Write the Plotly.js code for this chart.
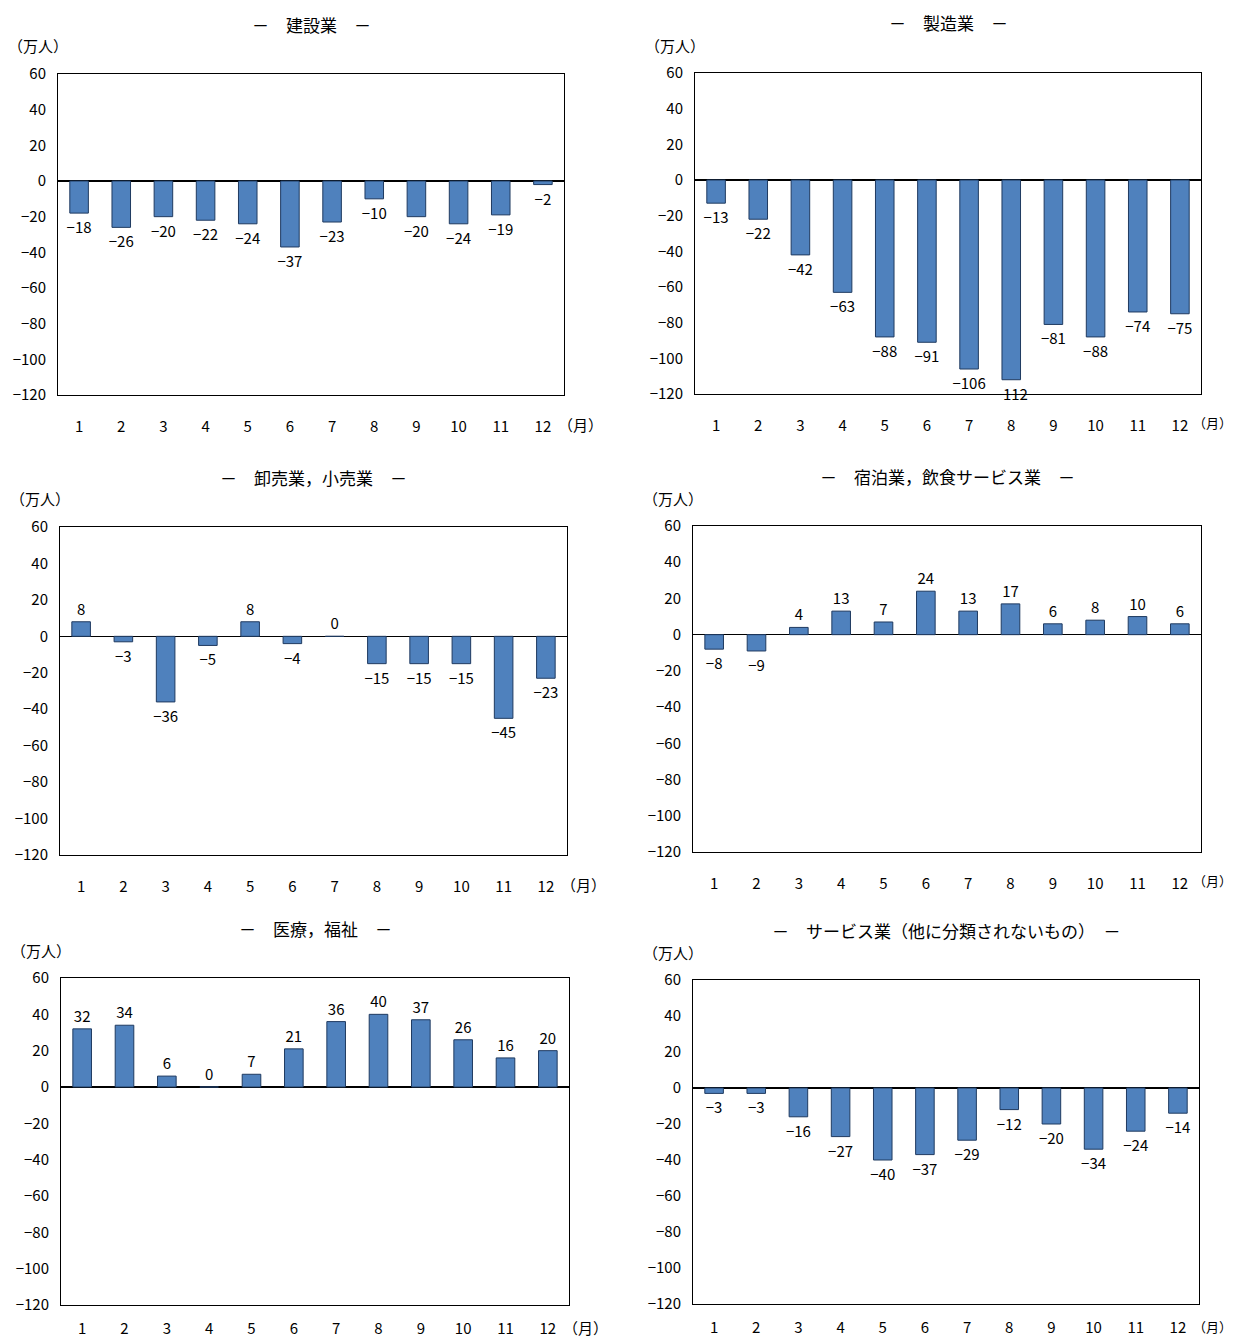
<!DOCTYPE html>
<html><head><meta charset="utf-8">
<script src="https://cdn.plot.ly/plotly-3.0.1.min.js"></script>
<style>body{margin:0;background:#fff}</style>
</head><body>
<div id="chart" style="width:1235px;height:1344px"></div>
<script>
const months = ["1","2","3","4","5","6","7","8","9","10","11","12"];
const titles = ["－　建設業　－", "－　製造業　－", "－　卸売業，小売業　－", "－　宿泊業，飲食サービス業　－", "－　医療，福祉　－", "－　サービス業（他に分類されないもの）　－"];
const construction = [-18, -26, -20, -22, -24, -37, -23, -10, -20, -24, -19, -2];
const manufacturing = [-13, -22, -42, -63, -88, -91, -106, -112, -81, -88, -74, -75];
const retail = [8, -3, -36, -5, 8, -4, 0, -15, -15, -15, -45, -23];
const hospitality = [-8, -9, 4, 13, 7, 24, 13, 17, 6, 8, 10, 6];
const medical = [32, 34, 6, 0, 7, 21, 36, 40, 37, 26, 16, 20];
const services = [-3, -3, -16, -27, -40, -37, -29, -12, -20, -34, -24, -14];
const series = [construction, manufacturing, retail, hospitality, medical, services];

// plot boxes in pixels: [left, top, right, bottom]
const boxes = [[58,74,564,395],[695,73,1201,394],[60,527,567,855],[693,526,1201,852],[61,978,569,1305],[693,980,1199,1304]];
const W = 1235, H = 1344;
const font = "Noto Sans CJK JP, sans-serif";
const data = [], layout = {
  width: W, height: H, margin: {l:0, r:0, t:0, b:0}, showlegend: false,
  paper_bgcolor: "#fff", plot_bgcolor: "#fff", bargap: 0.56,
  font: {family: font, size: 15, color: "#000"}, annotations: []
};
series.forEach((vals, i) => {
  const n = i + 1, b = boxes[i];
  const bottomRow = i >= 4, rightCol = i % 2 === 1;
  data.push({
    type: "bar", x: months, y: vals, xaxis: "x" + n, yaxis: "y" + n,
    marker: {color: "#4F81BD", line: {color: "#1F3A60", width: 1}},
    text: vals.map(v => v < 0 ? "−" + (-v) : String(v)),
    textposition: "outside", cliponaxis: false, constraintext: "none",
    textfont: {family: font, size: 15, color: "#000"}, hoverinfo: "skip"
  });
  layout["xaxis" + n] = {
    domain: [b[0] / W, b[2] / W], anchor: "y" + n, type: "category",
    showline: true, mirror: true, linecolor: "#000", linewidth: 1, ticks: "",
    showgrid: false, tickfont: {size: 15}, ticklabelstandoff: bottomRow ? 10 : 18
  };
  layout["yaxis" + n] = {
    domain: [1 - b[3] / H, 1 - b[1] / H], anchor: "x" + n, range: [-120, 60], dtick: 20,
    showline: true, mirror: true, linecolor: "#000", linewidth: 1, ticks: "",
    showgrid: false, zeroline: true, zerolinecolor: "#000", zerolinewidth: 1.5,
    tickfont: {size: 15}, ticklabelstandoff: 8,
    tickvals: [60,40,20,0,-20,-40,-60,-80,-100,-120],
    ticktext: ["60","40","20","0","−20","−40","−60","−80","−100","−120"]
  };
  layout.annotations.push({
    text: titles[i], xref: "paper", yref: "paper", showarrow: false,
    x: (b[0] + b[2]) / 2 / W, y: 1 - (b[1] - 50) / H, xanchor: "center", yanchor: "middle",
    font: {size: 17}
  });
  layout.annotations.push({
    text: "（万人）", xref: "paper", yref: "paper", showarrow: false,
    x: (b[0] - 52) / W, y: 1 - (b[1] - 28) / H, xanchor: "left", yanchor: "middle", font: {size: 15}
  });
  layout.annotations.push({
    text: "（月）", xref: "paper", yref: "paper", showarrow: false,
    x: rightCol ? (W - 1) / W : (b[2] - 8) / W, xanchor: rightCol ? "right" : "left",
    y: 1 - (b[3] + (bottomRow ? 22 : 29)) / H, yanchor: "middle", font: {size: rightCol ? 13 : 15}
  });
});
Plotly.newPlot("chart", data, layout, {displayModeBar: false, staticPlot: true});
</script>
</body></html>
